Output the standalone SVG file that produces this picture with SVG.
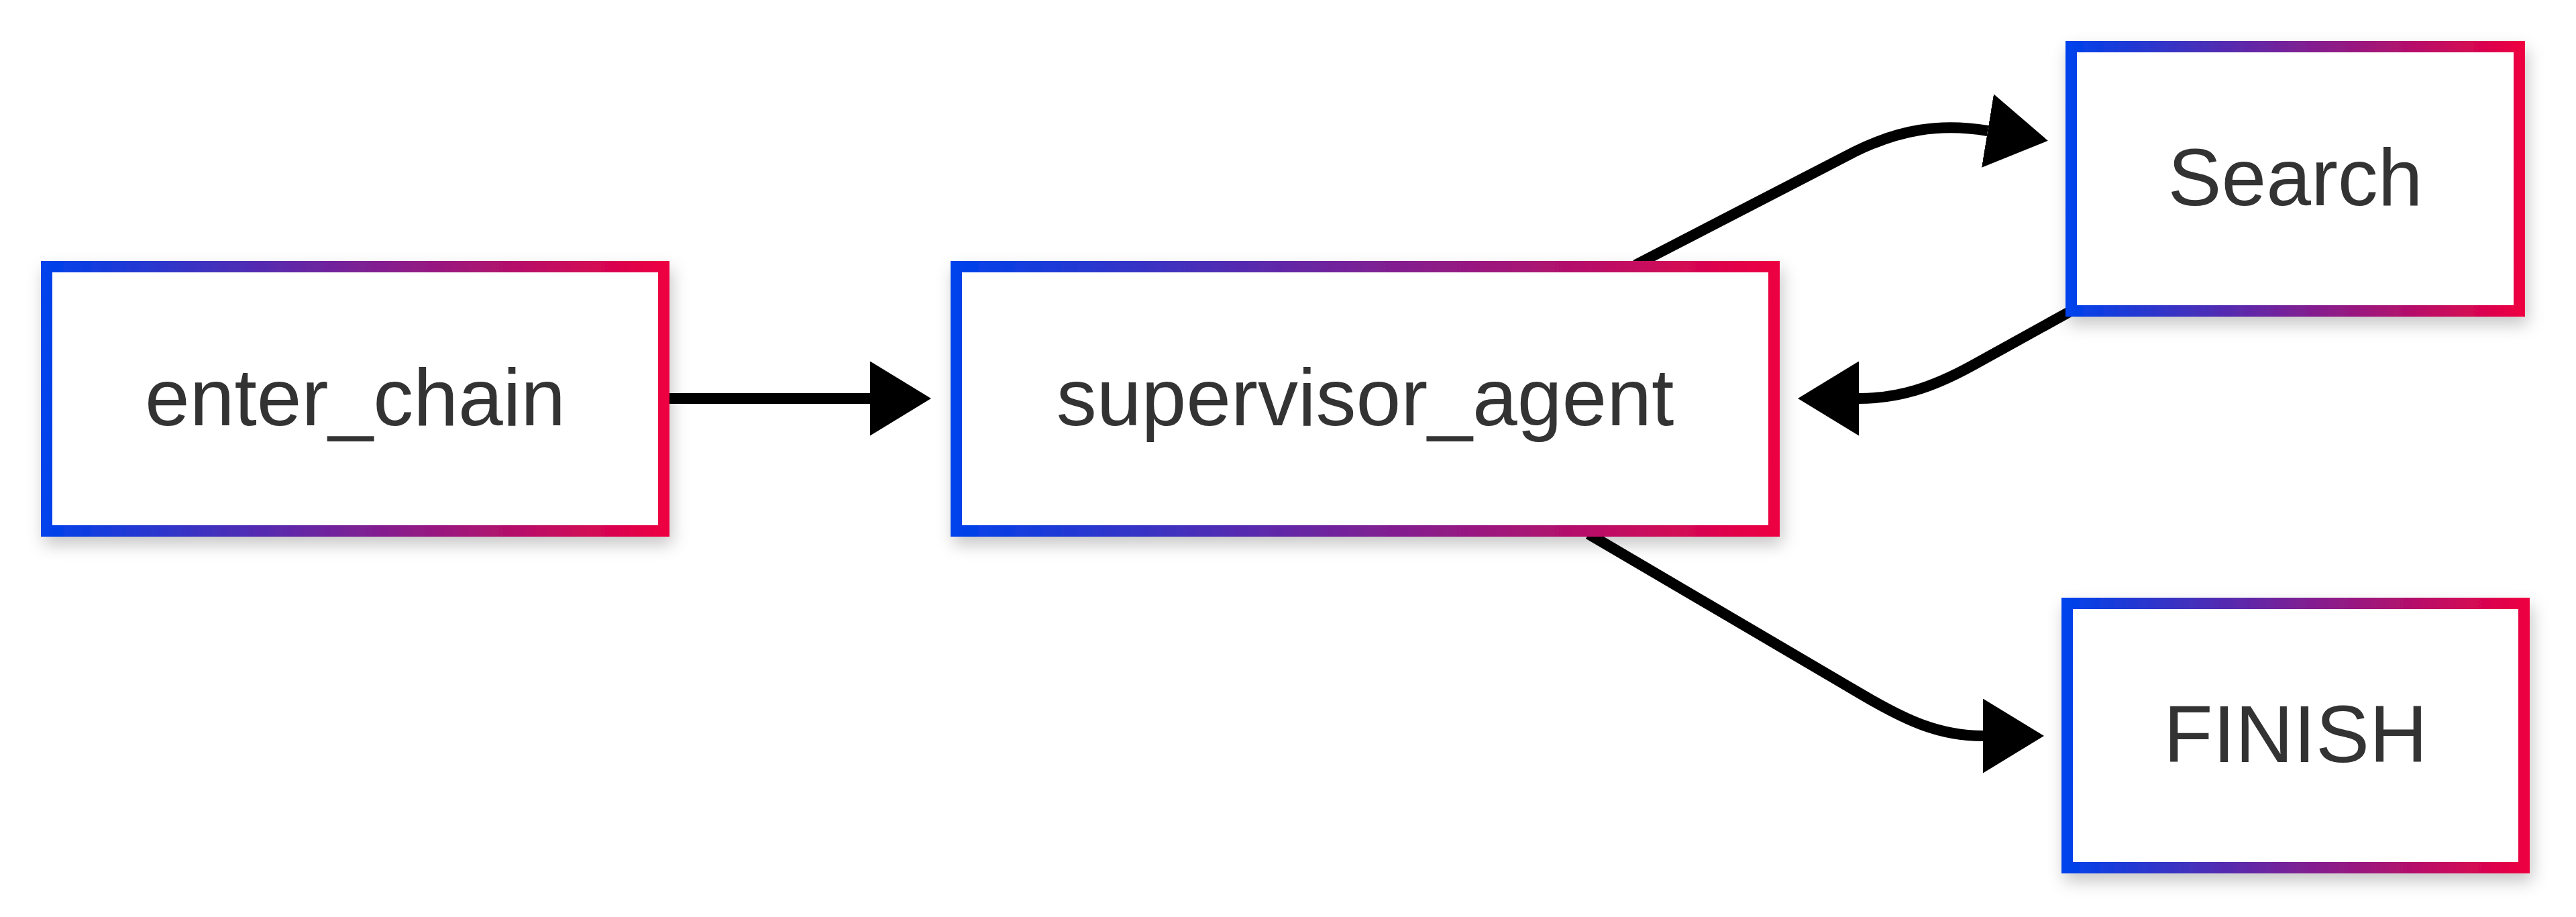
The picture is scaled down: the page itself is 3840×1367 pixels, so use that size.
<svg xmlns="http://www.w3.org/2000/svg" width="3840" height="1367" viewBox="0 0 3840 1367">
  <style>
    .box { fill: #ffffff; stroke: url(#grad); stroke-width: 17; filter: url(#shadow); }
    .label { font-family: "Liberation Sans", Arial, sans-serif; font-size: 120px; fill: #333333; text-anchor: middle; }
    .edge { fill: none; stroke: #000000; stroke-width: 16; marker-end: url(#arrow); }
  </style>
  <defs>
    <linearGradient id="grad" x1="0" y1="0" x2="1" y2="0">
      <stop offset="0" stop-color="#0042EB"/>
      <stop offset="0.5" stop-color="#7A2196"/>
      <stop offset="1" stop-color="#EC0042"/>
    </linearGradient>
    <filter id="shadow" x="-10%" y="-20%" width="125%" height="150%">
      <feDropShadow dx="4" dy="12" stdDeviation="12" flood-color="#000000" flood-opacity="0.22"/>
    </filter>
    <marker id="arrow" viewBox="0 0 91 111" refX="0" refY="55.5" markerWidth="91" markerHeight="111" markerUnits="userSpaceOnUse" orient="auto">
      <path d="M0,0 L91,55.5 L0,111 z" fill="#000000"/>
    </marker>
  </defs>
  <rect x="0" y="0" width="3840" height="1367" fill="#ffffff"/>
  <g id="connectors">
    <path class="edge" d="M998,594 L1297,594"/>
    <path class="edge" d="M2438,395 L2765,226 C2830,194 2890,183 2963,195"/>
    <path class="edge" d="M3090,462 L2940,545 C2880,578 2830,594 2771,594"/>
    <path class="edge" d="M2368,796 L2780,1038 C2840,1073 2890,1097 2956,1097"/>
  </g>
  <g id="enter_chain">
    <rect class="box" x="69.5" y="397.5" width="920" height="394"/>
    <text class="label" x="529.5" y="634">enter_chain</text>
  </g>
  <g id="supervisor_agent">
    <rect class="box" x="1425.5" y="397.5" width="1219" height="394"/>
    <text class="label" x="2035" y="634">supervisor_agent</text>
  </g>
  <g id="Search">
    <rect class="box" x="3087.5" y="69.5" width="668" height="394"/>
    <text class="label" x="3421.5" y="306">Search</text>
  </g>
  <g id="FINISH">
    <rect class="box" x="3081.5" y="899.5" width="681" height="394"/>
    <text class="label" x="3422" y="1136">FINISH</text>
  </g>
</svg>
